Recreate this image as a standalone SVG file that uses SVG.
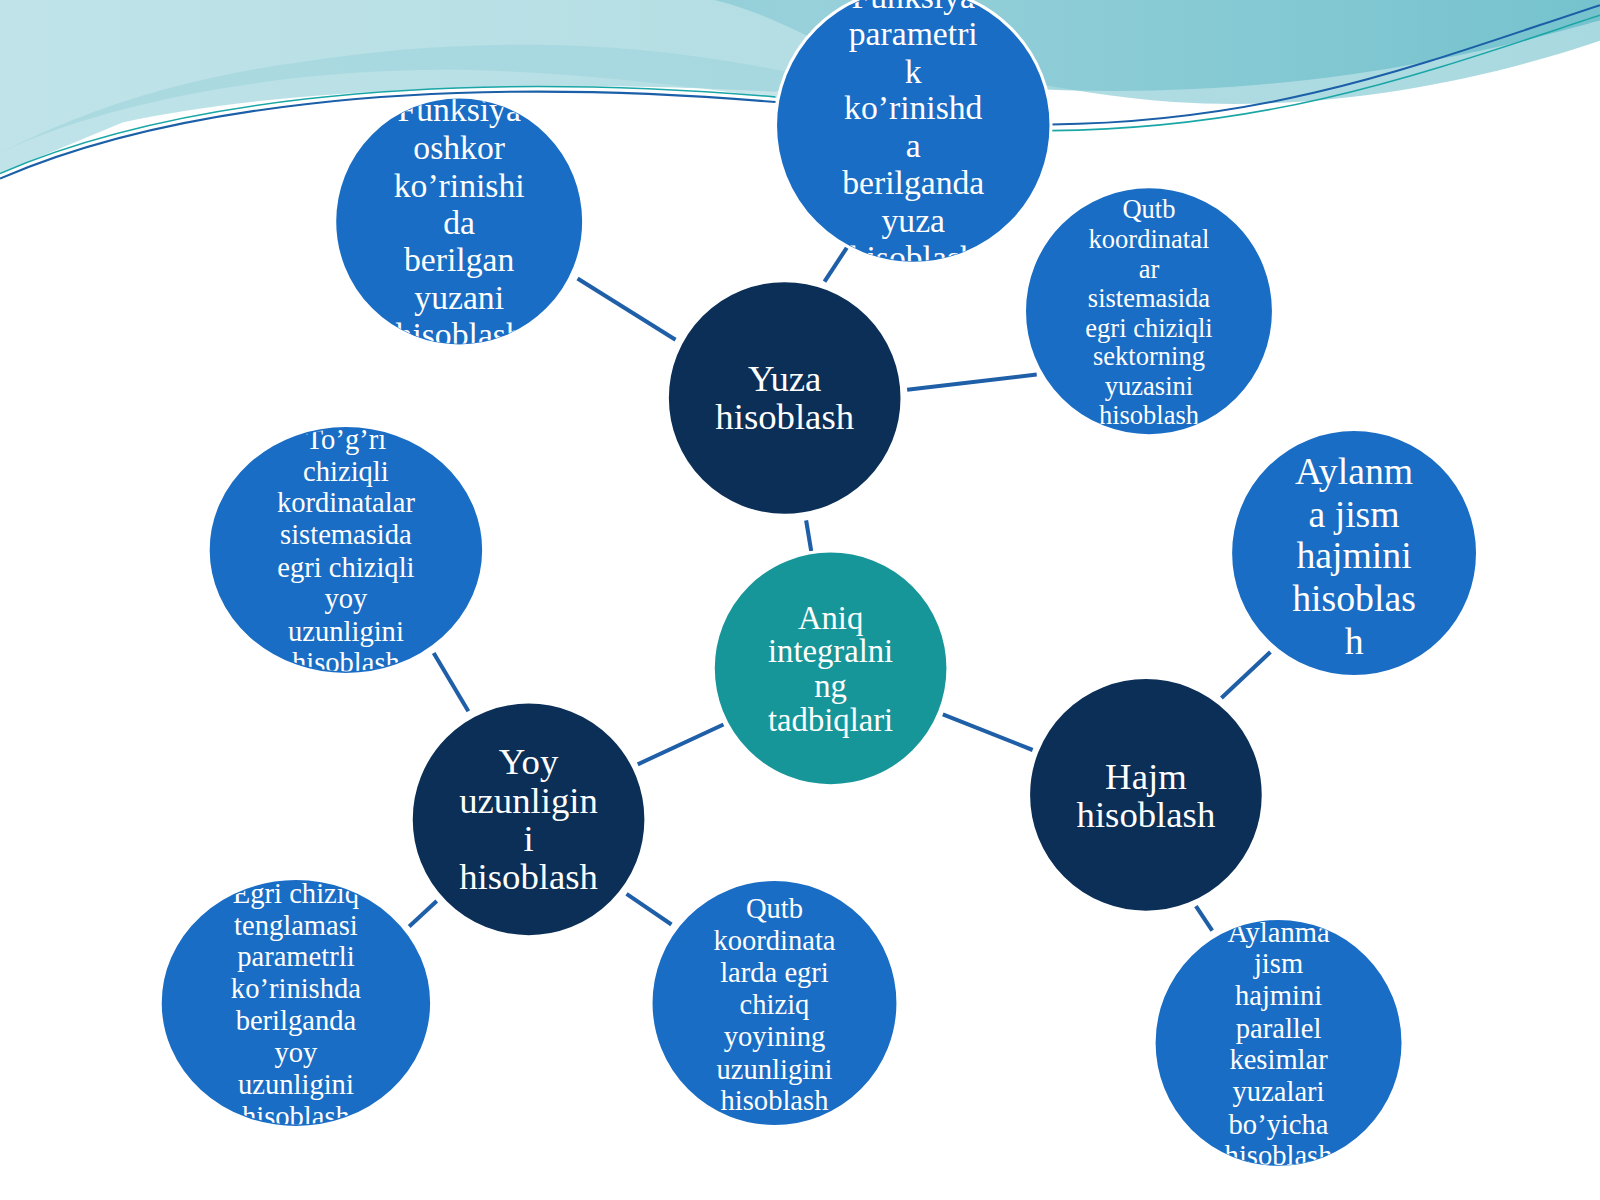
<svg xmlns="http://www.w3.org/2000/svg" width="1600" height="1200" viewBox="0 0 1600 1200">
<defs>
<linearGradient id="wg" x1="0" y1="0" x2="1" y2="0"><stop offset="0" stop-color="#4fb6c4"/><stop offset="0.5" stop-color="#8ccbd6"/><stop offset="1" stop-color="#5fb9c6"/></linearGradient>
<linearGradient id="wg2" x1="0" y1="0" x2="1" y2="0"><stop offset="0" stop-color="#bfe3e8"/><stop offset="1" stop-color="#a9d9e0"/></linearGradient>
<clipPath id="c1"><circle cx="450" cy="217" r="120"/></clipPath>
<clipPath id="c2"><circle cx="895" cy="123" r="133"/></clipPath>
<clipPath id="c3"><circle cx="1126" cy="305" r="120"/></clipPath>
<clipPath id="c4"><ellipse cx="339" cy="539" rx="132" ry="119"/></clipPath>
<clipPath id="c5"><ellipse cx="290" cy="983" rx="131" ry="119"/></clipPath>
<clipPath id="c6"><circle cx="759" cy="983" r="119"/></clipPath>
<clipPath id="c7"><circle cx="1253" cy="1022" r="120"/></clipPath>
</defs>
<style>
.n circle,.n ellipse{stroke:#fff;stroke-width:3}
.lb{fill:#1a6dc4}.dk{fill:#0c2f57}.tl{fill:#17969a}
text{font-family:"Liberation Serif","DejaVu Serif",serif;fill:#fff;text-anchor:middle}
.cn line{stroke:#1f5fa8;stroke-width:4}
</style>
<rect width="1600" height="1200" fill="#fff"/>
<g transform="scale(1.0204)">
<path d="M0 0H1568V40C1450 80 1300 110 1150 100C1000 90 900 40 760 90C600 80 300 80 120 120L0 170Z" fill="url(#wg2)"/>
<path d="M0 0H700C780 20 820 60 900 75C1050 100 1250 90 1400 60C1480 45 1530 30 1568 20V0Z" fill="url(#wg)" opacity="0.7"/>
<path d="M0 150C100 100 300 60 500 70C700 80 800 110 900 105C700 40 500 30 300 60C150 80 60 120 0 150Z" fill="#9fd3dc" opacity="0.6"/>
<path d="M0 175C150 110 400 70 760 100" fill="none" stroke="#1a5fa8" stroke-width="2"/>
<path d="M0 170C150 105 400 65 760 95" fill="none" stroke="#1aa6a6" stroke-width="1.5"/>
<path d="M1030 122C1250 120 1400 60 1568 5" fill="none" stroke="#1a5fa8" stroke-width="2"/>
<path d="M1030 128C1250 126 1400 70 1568 15" fill="none" stroke="#1aa6a6" stroke-width="1.5"/>
<g class="cn">
<line x1="566" y1="273" x2="662" y2="333"/><line x1="808" y1="276" x2="833" y2="238"/>
<line x1="889" y1="382" x2="1016" y2="367"/><line x1="790" y1="510" x2="795" y2="540"/>
<line x1="709" y1="710" x2="625" y2="749"/><line x1="924" y1="700" x2="1012" y2="735"/>
<line x1="459" y1="697" x2="425" y2="640"/><line x1="428" y1="883" x2="401" y2="908"/>
<line x1="614" y1="876" x2="658" y2="906"/><line x1="1197" y1="684" x2="1245" y2="639"/>
<line x1="1172" y1="888" x2="1188" y2="912"/>
</g>
<g id="aniq" class="n"><circle class="tl" cx="814" cy="655" r="115"/>
<text font-size="32"><tspan x="814" y="616">Aniq</tspan><tspan x="814" y="649">integralni</tspan><tspan x="814" y="683">ng</tspan><tspan x="814" y="716">tadbiqlari</tspan></text></g>
<g id="yuza" class="n"><circle class="dk" cx="769" cy="390" r="115"/>
<text font-size="36"><tspan x="769" y="383">Yuza</tspan><tspan x="769" y="420">hisoblash</tspan></text></g>
<g id="yoy" class="n"><circle class="dk" cx="518" cy="803" r="115"/>
<text font-size="36"><tspan x="518" y="759">Yoy</tspan><tspan x="518" y="797">uzunligin</tspan><tspan x="518" y="834">i</tspan><tspan x="518" y="871">hisoblash</tspan></text></g>
<g id="hajm" class="n"><circle class="dk" cx="1123" cy="779" r="115"/>
<text font-size="36"><tspan x="1123" y="773">Hajm</tspan><tspan x="1123" y="810">hisoblash</tspan></text></g>
<g id="funk" class="n"><circle class="lb" cx="450" cy="217" r="122"/>
<text font-size="33" clip-path="url(#c1)"><tspan x="450" y="119">Funksiya</tspan><tspan x="450" y="156">oshkor</tspan><tspan x="450" y="193">ko’rinishi</tspan><tspan x="450" y="229">da</tspan><tspan x="450" y="266">berilgan</tspan><tspan x="450" y="303">yuzani</tspan><tspan x="450" y="339">hisoblash</tspan></text></g>
<g id="param" class="n"><circle class="lb" cx="895" cy="123" r="135"/>
<text font-size="33" clip-path="url(#c2)"><tspan x="895" y="8">Funksiya</tspan><tspan x="895" y="44">parametri</tspan><tspan x="895" y="81">k</tspan><tspan x="895" y="117">ko’rinishd</tspan><tspan x="895" y="154">a</tspan><tspan x="895" y="190">berilganda</tspan><tspan x="895" y="227">yuza</tspan><tspan x="895" y="264">hisoblash</tspan></text></g>
<g id="qutbs" class="n"><circle class="lb" cx="1126" cy="305" r="122"/>
<text font-size="26" clip-path="url(#c3)"><tspan x="1126" y="214">Qutb</tspan><tspan x="1126" y="243">koordinatal</tspan><tspan x="1126" y="272">ar</tspan><tspan x="1126" y="301">sistemasida</tspan><tspan x="1126" y="330">egri chiziqli</tspan><tspan x="1126" y="358">sektorning</tspan><tspan x="1126" y="387">yuzasini</tspan><tspan x="1126" y="416">hisoblash</tspan></text></g>
<g id="togri" class="n"><ellipse class="lb" cx="339" cy="539" rx="135" ry="122"/>
<text font-size="28" clip-path="url(#c4)"><tspan x="339" y="440">To’g’ri</tspan><tspan x="339" y="471">chiziqli</tspan><tspan x="339" y="502">kordinatalar</tspan><tspan x="339" y="533">sistemasida</tspan><tspan x="339" y="565">egri chiziqli</tspan><tspan x="339" y="596">yoy</tspan><tspan x="339" y="628">uzunligini</tspan><tspan x="339" y="659">hisoblash</tspan></text></g>
<g id="aylj" class="n"><circle class="lb" cx="1327" cy="542" r="121"/>
<text font-size="37"><tspan x="1327" y="474">Aylanm</tspan><tspan x="1327" y="516">a jism</tspan><tspan x="1327" y="557">hajmini</tspan><tspan x="1327" y="599">hisoblas</tspan><tspan x="1327" y="641">h</tspan></text></g>
<g id="egri" class="n"><ellipse class="lb" cx="290" cy="983" rx="133" ry="122"/>
<text font-size="28" clip-path="url(#c5)"><tspan x="290" y="885">Egri chiziq</tspan><tspan x="290" y="916">tenglamasi</tspan><tspan x="290" y="947">parametrli</tspan><tspan x="290" y="978">ko’rinishda</tspan><tspan x="290" y="1009">berilganda</tspan><tspan x="290" y="1041">yoy</tspan><tspan x="290" y="1072">uzunligini</tspan><tspan x="290" y="1103">hisoblash</tspan></text></g>
<g id="qutby" class="n"><circle class="lb" cx="759" cy="983" r="121"/>
<text font-size="28" clip-path="url(#c6)"><tspan x="759" y="900">Qutb</tspan><tspan x="759" y="931">koordinata</tspan><tspan x="759" y="962">larda egri</tspan><tspan x="759" y="994">chiziq</tspan><tspan x="759" y="1025">yoyining</tspan><tspan x="759" y="1057">uzunligini</tspan><tspan x="759" y="1088">hisoblash</tspan></text></g>
<g id="aylp" class="n"><circle class="lb" cx="1253" cy="1022" r="122"/>
<text font-size="28" clip-path="url(#c7)"><tspan x="1253" y="923">Aylanma</tspan><tspan x="1253" y="954">jism</tspan><tspan x="1253" y="985">hajmini</tspan><tspan x="1253" y="1017">parallel</tspan><tspan x="1253" y="1048">kesimlar</tspan><tspan x="1253" y="1079">yuzalari</tspan><tspan x="1253" y="1111">bo’yicha</tspan><tspan x="1253" y="1142">hisoblash</tspan></text></g>
</g>
</svg>
